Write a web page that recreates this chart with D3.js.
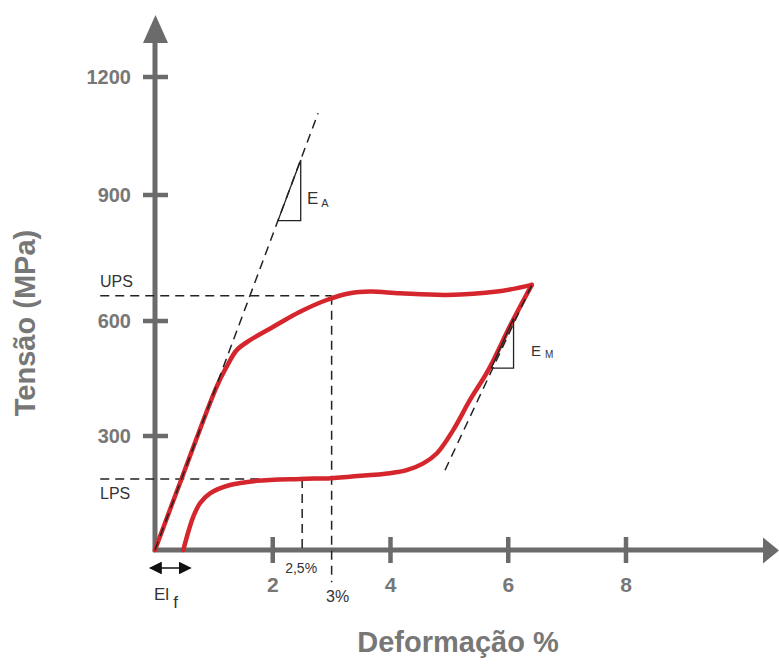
<!DOCTYPE html>
<html>
<head>
<meta charset="utf-8">
<script src="https://cdn.jsdelivr.net/npm/d3@7"></script>
<style>
body { margin: 0; background: #fff; }
text { font-family: "Liberation Sans", Arial, sans-serif; }
</style>
</head>
<body>
<script>
var xTicks = [2, 4, 6, 8]
var yTicks = [300, 600, 900, 1200]

// stress (MPa) vs strain (%)
var loading = [[0, 0], [0.45, 187], [1.048, 429], [1.218, 481], [1.388, 524], [1.614, 550],
  [2.009, 585], [2.463, 622], [2.916, 650], [3.312, 666], [3.652, 670], [4.161, 666],
  [4.96, 662], [5.809, 670], [6.4, 686]]
var unloading = [[6.4, 686], [6.04, 590], [5.661, 472], [5.35, 394], [5.067, 316],
  [4.785, 254], [4.557, 228], [4.275, 210], [3.992, 202], [3.312, 193], [2.989, 189],
  [2.463, 187], [1.727, 182], [1.274, 171], [0.934, 149], [0.764, 123], [0.651, 88],
  [0.566, 48], [0.481, 0]]

var ups = 660, lps = 187
var eaLine = [[0, 0], [2.77, 1108]]
var eaTriangle = [[2.089, 839], [2.475, 989], [2.475, 839], [2.089, 839]]
var emLine = [[4.926, 210], [6.4, 686]]
var emTriangle = [[5.71, 477], [6.09, 606], [6.09, 477], [5.71, 477]]
var elf = [-0.08, 0.6]

var gray = '#6b6b6b', labelGray = '#777'

var svg = d3.select('body').append('svg').attr('width', 779).attr('height', 668)

var x = d3.scaleLinear().domain([0, 8]).range([155, 626])
// hand drawn axis: the ticks are not evenly spaced
var y = d3.scaleLinear().domain([0, 300, 600, 900, 1200]).range([550, 436, 321, 195, 77])

var line = d3.line().x(d => x(d[0])).y(d => y(d[1]))
var curve = d3.line().x(d => x(d[0])).y(d => y(d[1])).curve(d3.curveCatmullRom.alpha(0.5))

// axes with arrows
svg.append('line').attr('x1', x(0)).attr('x2', x(0)).attr('y1', y(0) + 2).attr('y2', 42)
  .attr('stroke', gray).attr('stroke-width', 5)
svg.append('path').attr('d', 'M143,43L168,43L155.5,15Z').attr('fill', gray)
svg.append('line').attr('x1', x(0) - 2).attr('x2', 765).attr('y1', y(0)).attr('y2', y(0))
  .attr('stroke', gray).attr('stroke-width', 5)
svg.append('path').attr('d', 'M763,537.5L763,563.5L779,550.5Z').attr('fill', gray)

svg.selectAll('.xtick').data(xTicks).join('line')
  .attr('x1', d => x(d)).attr('x2', d => x(d)).attr('y1', y(0) - 13).attr('y2', y(0) + 13)
  .attr('stroke', gray).attr('stroke-width', 4.5)
svg.selectAll('.xlab').data(xTicks).join('text')
  .attr('x', d => x(d)).attr('y', 592).attr('text-anchor', 'middle')
  .attr('font-size', 21).attr('font-weight', 'bold').attr('fill', labelGray).text(d => d)

svg.selectAll('.ytick').data(yTicks).join('line')
  .attr('x1', x(0) - 12).attr('x2', x(0) + 13).attr('y1', d => y(d)).attr('y2', d => y(d))
  .attr('stroke', gray).attr('stroke-width', 4.5)
svg.selectAll('.ylab').data(yTicks).join('text')
  .attr('x', 131).attr('y', d => y(d) + 7).attr('text-anchor', 'end')
  .attr('font-size', 20).attr('font-weight', 'bold').attr('fill', labelGray).text(d => d)

svg.append('text').attr('x', 458).attr('y', 652).attr('text-anchor', 'middle')
  .attr('font-size', 29).attr('font-weight', 'bold').attr('fill', labelGray).text('Deformação %')
svg.append('text').attr('transform', 'translate(35,323) rotate(-90)').attr('text-anchor', 'middle')
  .attr('font-size', 29).attr('font-weight', 'bold').attr('fill', labelGray).text('Tensão (MPa)')

// UPS / LPS guides
var guides = [
  [[-0.93, ups], [3, ups]],
  [[-0.93, lps], [2.5, lps]],
  [[3, ups], [3, -85]],
  [[2.5, lps], [2.5, -10]]
]
svg.selectAll('.guide').data(guides).join('path')
  .attr('d', line).attr('fill', 'none').attr('stroke', '#222')
  .attr('stroke-width', 1.5).attr('stroke-dasharray', '9,6')

// the loop
svg.selectAll('.loop').data([loading, unloading]).join('path')
  .attr('d', curve).attr('fill', 'none').attr('stroke', '#d4262c')
  .attr('stroke-width', 4.5).attr('stroke-linecap', 'round').attr('stroke-linejoin', 'round')

// moduli
svg.selectAll('.mod').data([eaLine, emLine]).join('path')
  .attr('d', line).attr('fill', 'none').attr('stroke', '#222')
  .attr('stroke-width', 1.5).attr('stroke-dasharray', '9,6')
svg.selectAll('.tri').data([eaTriangle, emTriangle]).join('path')
  .attr('d', line).attr('fill', 'none').attr('stroke', '#222').attr('stroke-width', 1.3)

function label(px, py, main, sub, size, subSize, subDx, subDy) {
  var t = svg.append('text').attr('x', px).attr('y', py).attr('fill', '#333').attr('font-size', size)
  t.append('tspan').text(main)
  if (sub) t.append('tspan').attr('dx', subDx).attr('dy', subDy).attr('font-size', subSize).text(sub)
}

label(307, 204, 'E', 'A', 17, 11, 3, 3)
label(531, 356, 'E', 'M', 15, 10, 4, 2)
label(100, y(ups) - 9, 'UPS', null, 16)
label(100, y(lps) + 20, 'LPS', null, 16)
label(x(2.5) - 17, 573, '2,5%', null, 14)
label(326, 602, '3%', null, 16)
label(154, 600, 'El', 'f', 17, 17, 4, 8)

// El f arrow
var defs = svg.append('defs')
defs.append('marker').attr('id', 'head').attr('viewBox', '0 0 10 10').attr('refX', 9).attr('refY', 5)
  .attr('markerWidth', 8).attr('markerHeight', 8).attr('orient', 'auto-start-reverse')
  .append('path').attr('d', 'M0,0L10,5L0,10Z').attr('fill', '#111')
svg.append('line').attr('x1', x(elf[0])).attr('x2', x(elf[1])).attr('y1', 568).attr('y2', 568)
  .attr('stroke', '#111').attr('stroke-width', 1.6)
  .attr('marker-start', 'url(#head)').attr('marker-end', 'url(#head)')
</script>
</body>
</html>
